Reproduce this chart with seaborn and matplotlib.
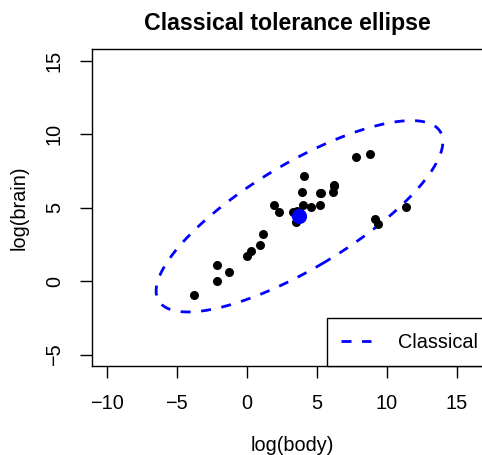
import numpy as np
import pandas as pd
import matplotlib
matplotlib.use("Agg")
import matplotlib.pyplot as plt
import seaborn as sns

# Animals data (MASS): body weight (kg), brain weight (g)
animals = ["Mountain beaver", "Cow", "Grey wolf", "Goat", "Guinea pig", "Dipliodocus",
           "Asian elephant", "Donkey", "Horse", "Potar monkey", "Cat", "Giraffe",
           "Gorilla", "Human", "African elephant", "Triceratops", "Rhesus monkey",
           "Kangaroo", "Golden hamster", "Mouse", "Rabbit", "Sheep", "Jaguar",
           "Chimpanzee", "Rat", "Brachiosaurus", "Mole", "Pig"]
body = [1.35, 465, 36.33, 27.66, 1.04, 11700, 2547, 187.1, 521, 10, 3.3, 529,
        207, 62, 6654, 9400, 6.8, 35, 0.12, 0.023, 2.5, 55.5, 100, 52.16, 0.28,
        87000, 0.122, 192]
brain = [8.1, 423, 119.5, 115, 5.5, 50, 4603, 419, 655, 115, 25.6, 680, 406,
         1320, 5712, 70, 179, 56, 1, 0.4, 12.1, 175, 157, 440, 1.9, 154.5, 3, 180]

x_ticks = [-10, -5, 0, 5, 10, 15]
y_ticks = [-5, 0, 5, 10, 15]
chi2_975_df2 = 7.3778  # 0.975 quantile of chi-square with 2 df

df = pd.DataFrame({"animal": animals,
                   "logbody": np.log(body),
                   "logbrain": np.log(brain)})

# classical tolerance ellipse
X = df[["logbody", "logbrain"]].to_numpy()
mu = X.mean(axis=0)
S = np.cov(X, rowvar=False)
vals, vecs = np.linalg.eigh(S)
t = np.linspace(0, 2 * np.pi, 400)
circ = np.vstack([np.cos(t), np.sin(t)])
ell = (vecs @ np.diag(np.sqrt(vals * chi2_975_df2)) @ circ).T + mu
ell_df = pd.DataFrame({"x": ell[:, 0], "y": ell[:, 1]})
mean_df = pd.DataFrame({"x": [mu[0]], "y": [mu[1]]})

plt.rcParams['font.family'] = ['Liberation Sans', 'DejaVu Sans']
plt.rcParams['axes.linewidth'] = 1.0

FS = 14.3
W, H = 482, 455
fig = plt.figure(figsize=(W / 100, H / 100), dpi=100)
left, right, top, bottom = 92.3, 492.0, 49.3, 366.0
ax = fig.add_axes([left / W, 1 - bottom / H, (right - left) / W, (bottom - top) / H])

sns.scatterplot(data=df, x="logbody", y="logbrain", ax=ax, color="black",
                s=42, edgecolor="black", linewidth=0, zorder=3, legend=False)
sns.scatterplot(data=mean_df, x="x", y="y", ax=ax, color="#0000FF",
                s=120, edgecolor="#0000FF", linewidth=0, zorder=4, legend=False)
ax.plot(ell_df["x"], ell_df["y"], color="#0000FF", lw=2.0,
        linestyle=(0, (3.6, 3.8)), label="Classical", zorder=2)

px_x = 14.0
px_y = 14.68
ax.set_xlim(-10 - (106.7 - left) / px_x, -10 + (right - 106.7) / px_x)
ax.set_ylim(-5 - (bottom - 354.7) / px_y, 15 + (61 - top) / px_y)
ax.set_xticks(x_ticks)
ax.set_yticks(y_ticks)
ax.set_xticklabels([str(v).replace("-", "\u2212") for v in x_ticks], fontsize=FS)
ax.set_yticklabels([str(v).replace("-", "\u2212") for v in y_ticks], fontsize=FS,
                   rotation=90, va="center")
ax.tick_params(direction="out", length=8.5, width=1.0, colors="black")
ax.tick_params(axis="x", pad=12)
ax.tick_params(axis="y", pad=12)
for s in ax.spines.values():
    s.set_color("black")

ax.set_xlabel("log(body)", fontsize=FS, labelpad=16)
ax.set_ylabel("log(brain)", fontsize=FS, labelpad=12)
ax.set_title("Classical tolerance ellipse", fontsize=16.7, fontweight="bold", pad=14,
             x=(287.5 - left) / (right - left))

leg = ax.legend(loc="lower right", fontsize=FS, frameon=True, fancybox=False,
                borderaxespad=0, handlelength=1.5, handletextpad=1.35,
                borderpad=0.72, framealpha=1)
leg.get_frame().set_edgecolor("black")
leg.get_frame().set_linewidth(1.0)

fig.savefig("out.png", dpi=100)
